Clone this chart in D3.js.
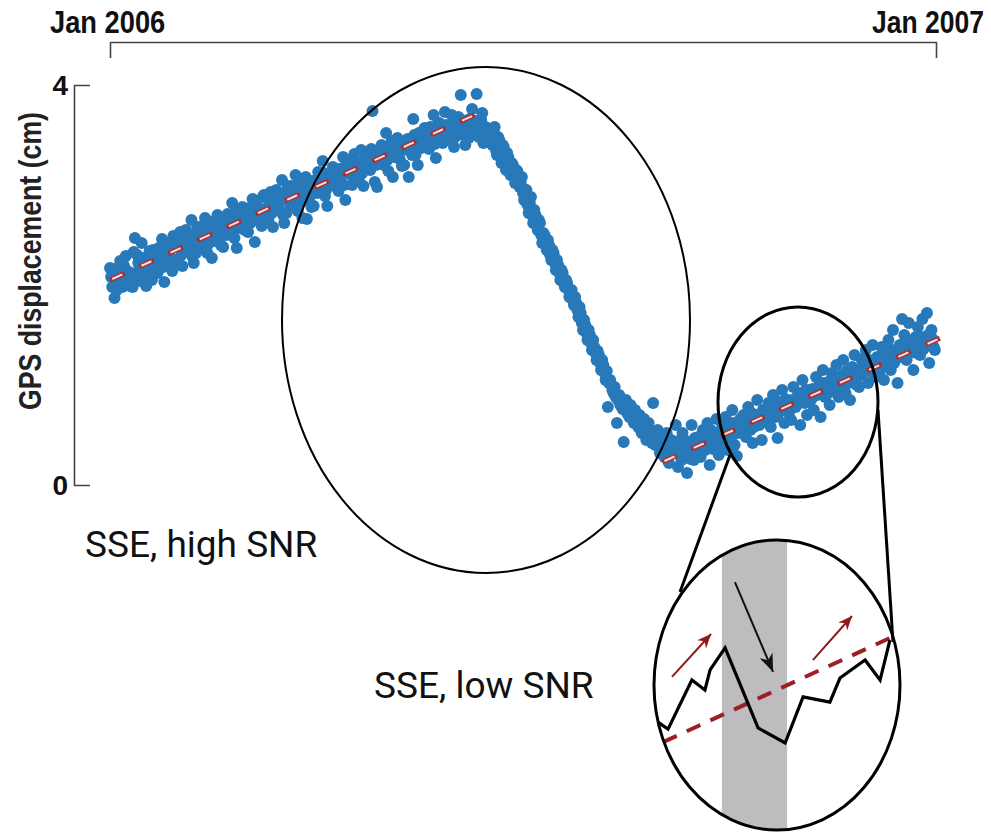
<!DOCTYPE html>
<html lang="en">
  <head>
    <meta charset="utf-8">
    <title>GPS displacement during a slow slip event</title>
    <script type="text/javascript" src="https://cdn.jsdelivr.net/npm/d3@7"></script>
    <style type="text/css">
     body { margin: 0; background: #fff; }
     svg { display: block; }
    </style>
  </head>
  <body>
    <script type="text/javascript">

     // GPS displacement (cm) --------------------------------------------------------
     // two solutions a day: first array at 00h, second array at 12h
     let startDate = new Date(2006, 0, 1);
     let endDate = new Date(2007, 0, 1);

     // days 0 - 167 : steady loading
     let beforeSSE = [2.17, 1.98, 1.87, 1.95, 2.13, 2.02, 2.20, 2.29, 2.05, 1.99,
                      1.98, 2.47, 2.30, 2.12, 2.42, 2.08, 1.99, 2.26, 2.20, 2.35,
                      2.30, 2.12, 2.21, 2.46, 2.03, 2.38, 2.29, 2.19, 2.49, 2.25,
                      2.25, 2.53, 2.19, 2.45, 2.51, 2.36, 2.65, 2.22, 2.32, 2.49,
                      2.58, 2.39, 2.67, 2.32, 2.52, 2.27, 2.58, 2.66, 2.45, 2.40,
                      2.38, 2.63, 2.71, 2.55, 2.82, 2.47, 2.37, 2.66, 2.59, 2.74,
                      2.71, 2.53, 2.62, 2.86, 2.43, 2.79, 2.70, 2.59, 2.90, 2.66,
                      2.65, 2.93, 2.58, 2.85, 2.92, 2.74, 3.05, 2.62, 2.72, 2.89,
                      2.99, 2.80, 3.10, 2.74, 2.92, 2.67, 2.98, 2.66, 2.86, 2.78,
                      2.79, 3.04, 3.13, 2.97, 3.24, 2.89, 2.79, 3.08, 3.01, 3.16,
                      3.12, 2.94, 3.03, 3.28, 2.85, 3.20, 3.11, 3.00, 3.31, 3.07,
                      3.06, 3.35, 2.99, 3.26, 3.33, 3.15, 3.74, 3.03, 2.98, 3.30,
                      3.40, 3.20, 3.52, 3.14, 3.33, 3.08, 3.39, 3.47, 3.26, 3.19,
                      3.20, 3.44, 3.08, 3.38, 3.66, 3.30, 3.20, 3.49, 3.42, 3.57,
                      3.53, 3.36, 3.45, 3.70, 3.27, 3.62, 3.52, 3.42, 3.73, 3.49,
                      3.45, 3.70, 3.38, 3.62, 3.68, 3.90, 3.50, 3.40, 3.50, 3.66,
                      3.76, 3.55, 3.91, 3.48, 3.65, 3.42, 3.58, 3.52];
     let beforeSSE2 = [2.08, 2.16, 2.01, 2.06, 2.24, 1.98, 2.17, 2.08, 2.13, 2.05,
                       2.33, 2.12, 2.22, 2.04, 2.27, 2.22, 2.14, 2.34, 2.05, 2.29,
                       2.20, 2.37, 2.31, 2.18, 2.42, 2.26, 2.35, 2.14, 2.40, 2.44,
                       2.41, 2.30, 2.47, 2.55, 2.33, 2.43, 2.28, 2.50, 2.58, 2.37,
                       2.45, 2.60, 2.52, 2.41, 2.63, 2.50, 2.44, 2.70, 2.56, 2.61,
                       2.62, 2.50, 2.68, 2.60, 2.53, 2.75, 2.64, 2.57, 2.78, 2.55,
                       2.60, 2.77, 2.74, 2.65, 2.83, 2.71, 2.64, 2.88, 2.76, 2.70,
                       2.84, 2.72, 2.80, 2.95, 2.78, 2.86, 2.70, 2.92, 2.99, 2.81,
                       2.85, 2.94, 2.90, 3.02, 2.83, 2.97, 3.08, 2.89, 2.95, 3.04,
                       3.00, 2.92, 3.08, 3.02, 3.12, 2.95, 3.10, 3.05, 3.18, 2.99,
                       3.05, 3.16, 3.10, 3.00, 3.22, 3.14, 3.25, 3.08, 3.17, 3.21,
                       3.22, 3.12, 3.25, 3.30, 3.18, 3.36, 3.24, 3.20, 3.34, 3.27,
                       3.30, 3.38, 3.25, 3.34, 3.44, 3.28, 3.36, 3.31, 3.42, 3.35,
                       3.36, 3.46, 3.40, 3.30, 3.50, 3.43, 3.52, 3.37, 3.47, 3.40,
                       3.44, 3.58, 3.50, 3.41, 3.56, 3.62, 3.46, 3.55, 3.60, 3.52,
                       3.55, 3.62, 3.48, 3.58, 3.52, 3.65, 3.57, 3.60, 3.47, 3.62,
                       3.55, 3.64, 3.50, 3.60, 3.72, 3.56, 3.48, 3.55];
     // days 168 - 250 : the slow slip event
     let duringSSE = [3.52, 3.40, 3.58, 3.30, 3.45, 3.22, 3.38, 3.15, 3.28, 3.10,
                      3.20, 3.02, 3.14, 2.98, 3.08, 2.85, 2.95, 2.72, 2.88, 2.62,
                      2.70, 2.55, 2.62, 2.42, 2.50, 2.35, 2.40, 2.25, 2.32, 2.15,
                      2.20, 2.05, 2.12, 1.98, 2.02, 1.88, 1.95, 1.80, 1.82, 1.68,
                      1.72, 1.55, 1.60, 1.45, 1.50, 1.35, 1.38, 1.25, 1.30, 1.15,
                      1.20, 1.05, 0.78, 1.05, 0.95, 0.98, 0.62, 0.90, 0.82, 0.43,
                      0.85, 0.72, 0.80, 0.65, 0.75, 0.60, 0.70, 0.52, 0.66, 0.45,
                      0.62, 0.50, 0.82, 0.40, 0.55, 0.32, 0.48, 0.28, 0.52, 0.22,
                      0.45, 0.35, 0.60];
     let duringSSE2 = [3.45, 3.55, 3.35, 3.48, 3.30, 3.40, 3.25, 3.32, 3.18, 3.22,
                       3.12, 3.15, 3.05, 3.02, 2.92, 2.95, 2.80, 2.82, 2.70, 2.75,
                       2.62, 2.65, 2.50, 2.52, 2.40, 2.45, 2.30, 2.35, 2.22, 2.25,
                       2.12, 2.15, 2.02, 2.05, 1.95, 1.92, 1.85, 1.88, 1.75, 1.78,
                       1.62, 1.65, 1.52, 1.55, 1.42, 1.45, 1.32, 1.34, 1.22, 1.25,
                       1.12, 1.14, 1.02, 1.00, 0.92, 0.88, 0.85, 0.80, 0.76, 0.78,
                       0.72, 0.68, 0.70, 0.62, 0.64, 0.58, 0.55, 0.60, 0.50, 0.55,
                       0.48, 0.42, 0.50, 0.45, 0.38, 0.42, 0.35, 0.40, 0.30, 0.38,
                       0.32, 0.42, 0.36];
     // days 251 - 364 : loading again
     let afterSSE = [0.18, 0.45, 0.52, 0.30, 0.12, 0.41, 0.60, 0.25, 0.35, 0.48,
                     0.28, 0.55, 0.35, 0.62, 0.20, 0.47, 0.38, 0.66, 0.30, 0.52,
                     0.42, 0.68, 0.35, 0.58, 0.75, 0.40, 0.29, 0.62, 0.53, 0.70,
                     0.48, 0.78, 0.55, 0.42, 0.70, 0.85, 0.60, 0.45, 0.72, 0.66,
                     0.82, 0.58, 0.90, 0.68, 0.47, 0.75, 0.95, 0.62, 0.80, 0.72,
                     0.65, 0.98, 0.78, 0.88, 0.60, 1.05, 0.82, 0.70, 0.95, 0.86,
                     0.75, 1.08, 0.92, 0.68, 1.15, 0.88, 1.02, 0.80, 1.12, 0.96,
                     1.20, 0.88, 1.05, 1.25, 0.92, 1.10, 0.85, 1.18, 1.30, 1.00,
                     0.98, 1.26, 1.15, 1.35, 1.02, 1.22, 1.40, 1.08, 1.28, 1.12,
                     1.38, 1.05, 1.30, 1.45, 1.15, 1.55, 1.28, 1.02, 1.40, 1.66,
                     1.50, 1.25, 1.62, 1.35, 1.15, 1.48, 1.58, 1.30, 1.66, 1.42,
                     1.72, 1.22, 1.55, 1.38];
     let afterSSE2 = [0.35, 0.25, 0.40, 0.44, 0.30, 0.26, 0.38, 0.47, 0.33, 0.42,
                      0.45, 0.38, 0.50, 0.41, 0.55, 0.36, 0.52, 0.46, 0.40, 0.58,
                      0.55, 0.50, 0.60, 0.47, 0.62, 0.56, 0.52, 0.66, 0.58, 0.55,
                      0.64, 0.60, 0.72, 0.58, 0.66, 0.70, 0.62, 0.75, 0.68, 0.63,
                      0.74, 0.70, 0.78, 0.84, 0.72, 0.80, 0.76, 0.86, 0.74, 0.82,
                      0.85, 0.80, 0.88, 0.82, 0.92, 0.86, 0.95, 0.84, 0.90, 0.96,
                      0.95, 0.90, 1.00, 0.94, 1.02, 0.97, 0.92, 1.05, 0.98, 1.03,
                      1.05, 1.00, 1.10, 1.06, 1.14, 1.02, 1.12, 1.08, 1.04, 1.15,
                      1.16, 1.10, 1.20, 1.14, 1.25, 1.18, 1.12, 1.24, 1.20, 1.28,
                      1.25, 1.20, 1.32, 1.26, 1.35, 1.22, 1.30, 1.36, 1.28, 1.32,
                      1.36, 1.30, 1.42, 1.38, 1.45, 1.32, 1.40, 1.48, 1.36, 1.44,
                      1.50, 1.40, 1.46, 1.35];

     // linear trends [day, cm]
     let trendBefore = [[0, 2.05], [163, 3.72]];
     let trendAfter = [[244, 0.23], [367, 1.47]];

     let yTicks = [0, 4];
     let xTickLabels = ["Jan 2006", "Jan 2007"];
     let yTitle = "GPS displacement (cm)";
     let noteHigh = "SSE, high SNR";
     let noteLow = "SSE, low SNR";

     // zoomed sketch, coordinates in percent of the inset box
     let insetZigzag = [[1.6, 62.8], [5.7, 65.2], [15.4, 48.3], [20.7, 51.7], [22.8, 44.8],
                        [28.9, 37.2], [42.3, 64.8], [53.3, 70.0], [60.6, 54.1], [71.5, 55.9],
                        [75.6, 47.6], [85.8, 41.4], [91.9, 48.3], [95.9, 34.5]];
     let insetTrend = [[3.7, 69.7], [95.9, 33.8]];
     let insetUpArrows = [[[7.3, 47.2], [23.2, 32.4]], [[64.6, 41.4], [80.5, 26.2]]];
     let insetDownArrow = [[32.9, 14.5], [48.4, 45.5]];
     let insetBand = [27.6, 54.1];

     let w = 991;
     let h = 834;
     let narrow = "'Liberation Sans Narrow', 'Arial Narrow', sans-serif";

     let svg = d3.select("body").append("svg")
		 .attr("width", w)
		 .attr("height", h);

     let xScale = d3.scaleTime()
		    .domain([startDate, endDate])
		    .range([110, 936]);
     let yScale = d3.scaleLinear()
		    .domain([0, 4])
		    .range([485, 85]);

     let dayToDate = (d) => {return d3.timeDay.offset(startDate, d);};

     let series00 = beforeSSE.concat(duringSSE, afterSSE);
     let series12 = beforeSSE2.concat(duringSSE2, afterSSE2);
     let points = series00.map((v, i) => {return {date: dayToDate(i), value: v};})
			  .concat(series12.map((v, i) => {return {date: d3.timeHour.offset(dayToDate(i), 12), value: v};}));

     // top axis: just the bracket, ticks pointing down
     svg.append("g")
	.attr("transform", "translate(0,42)")
	.call(d3.axisBottom(xScale).tickValues([]).tickSizeOuter(16))
	.call(g => g.select(".domain").attr("stroke", "#444").attr("stroke-width", 1.6));

     // year labels, squeezed a bit to look like a condensed face
     svg.append("text")
	.attr("transform", "translate(" + (xScale(startDate) - 60) + ",33) scale(0.88,1)")
	.attr("font-family", narrow)
	.attr("font-weight", "bold")
	.attr("font-size", "31px")
	.attr("fill", "#111")
	.text(xTickLabels[0]);
     svg.append("text")
	.attr("transform", "translate(" + (xScale(endDate) + 48) + ",33) scale(0.855,1)")
	.attr("text-anchor", "end")
	.attr("font-family", narrow)
	.attr("font-weight", "bold")
	.attr("font-size", "31px")
	.attr("fill", "#111")
	.text(xTickLabels[1]);

     // left axis: bracket with ticks pointing right
     svg.append("g")
	.attr("transform", "translate(74,0)")
	.call(d3.axisRight(yScale).tickValues([]).tickSizeOuter(16))
	.call(g => g.select(".domain").attr("stroke", "#444").attr("stroke-width", 1.6));

     svg.selectAll("text.ylab")
	.data(yTicks)
	.enter()
	.append("text")
	.attr("class", "ylab")
	.attr("x", 68)
	.attr("y", d => {return yScale(d) + 10;})
	.attr("text-anchor", "end")
	.attr("font-family", narrow)
	.attr("font-weight", "bold")
	.attr("font-size", "28px")
	.attr("fill", "#111")
	.text(d => {return d;});

     svg.append("text")
	.attr("transform", "translate(41,261) rotate(-90)")
	.attr("text-anchor", "middle")
	.attr("textLength", 298)
	.attr("lengthAdjust", "spacingAndGlyphs")
	.attr("font-family", narrow)
	.attr("font-weight", "bold")
	.attr("font-size", "31px")
	.attr("fill", "#222")
	.text(yTitle);

     // the scatter
     svg.append("g")
	.selectAll("circle")
	.data(points)
	.enter()
	.append("circle")
	.attr("cx", d => {return xScale(d.date);})
	.attr("cy", d => {return yScale(d.value);})
	.attr("r", 6)
	.attr("fill", "#2879b9");

     // dashed trend lines (red dash with a pale core)
     let trendLine = d3.line()
		       .x(d => {return xScale(dayToDate(d[0]));})
		       .y(d => {return yScale(d[1]);});
     [trendBefore, trendAfter].forEach(t => {
       svg.append("path")
	  .attr("d", trendLine(t))
	  .attr("fill", "none")
	  .attr("stroke", "#a83232")
	  .attr("stroke-width", 5)
	  .attr("stroke-dasharray", "16 16");
       svg.append("path")
	  .attr("d", trendLine(t))
	  .attr("fill", "none")
	  .attr("stroke", "#f6dede")
	  .attr("stroke-width", 2)
	  .attr("stroke-dasharray", "11 21")
	  .attr("stroke-dashoffset", -2.5);
     });

     // annotation ellipses
     svg.append("ellipse")
	.attr("cx", 486).attr("cy", 320).attr("rx", 204).attr("ry", 253)
	.attr("fill", "none").attr("stroke", "#000").attr("stroke-width", 2);
     svg.append("ellipse")
	.attr("cx", 798).attr("cy", 402).attr("rx", 80).attr("ry", 95)
	.attr("fill", "none").attr("stroke", "#000").attr("stroke-width", 3);

     // connector lines to the zoomed sketch
     svg.append("line")
	.attr("x1", 730).attr("y1", 455).attr("x2", 680).attr("y2", 592)
	.attr("stroke", "#000").attr("stroke-width", 3);
     svg.append("line")
	.attr("x1", 878).attr("y1", 410).attr("x2", 893).attr("y2", 642)
	.attr("stroke", "#000").attr("stroke-width", 3);

     // zoomed sketch ------------------------------------------------------------
     let insetX = d3.scaleLinear().domain([0, 100]).range([654, 900]);
     let insetY = d3.scaleLinear().domain([0, 100]).range([540, 830]);

     let defs = svg.append("defs");
     defs.append("clipPath")
	 .attr("id", "insetClip")
	 .append("ellipse")
	 .attr("cx", insetX(50)).attr("cy", insetY(50))
	 .attr("rx", insetX(100) - insetX(50)).attr("ry", insetY(100) - insetY(50));

     let arrowHead = (id, color, len, wid) => {
       defs.append("marker")
	   .attr("id", id)
	   .attr("markerUnits", "userSpaceOnUse")
	   .attr("viewBox", "0 0 " + len + " " + wid)
	   .attr("refX", len)
	   .attr("refY", wid / 2)
	   .attr("markerWidth", len)
	   .attr("markerHeight", wid)
	   .attr("orient", "auto")
	   .append("path")
	   .attr("d", "M0,0 L" + len + "," + (wid / 2) + " L0," + wid + " L" + (len * 0.3) + "," + (wid / 2) + " Z")
	   .attr("fill", color);
     };
     arrowHead("redHead", "#8e1b1b", 14, 12);
     arrowHead("blackHead", "#111", 18, 14);

     let inset = svg.append("g");
     inset.append("rect")
	  .attr("clip-path", "url(#insetClip)")
	  .attr("x", insetX(insetBand[0]))
	  .attr("y", insetY(0))
	  .attr("width", insetX(insetBand[1]) - insetX(insetBand[0]))
	  .attr("height", insetY(100) - insetY(0))
	  .attr("fill", "#bebcbe");

     let insetLine = d3.line()
		       .x(d => {return insetX(d[0]);})
		       .y(d => {return insetY(d[1]);});

     inset.append("path")
	  .attr("d", insetLine(insetTrend))
	  .attr("fill", "none")
	  .attr("stroke", "#9b1f24")
	  .attr("stroke-width", 4)
	  .attr("stroke-dasharray", "15 11");

     inset.append("path")
	  .attr("d", insetLine(insetZigzag))
	  .attr("fill", "none")
	  .attr("stroke", "#000")
	  .attr("stroke-width", 3.2)
	  .attr("stroke-linejoin", "miter");

     insetUpArrows.forEach(a => {
       inset.append("path")
	    .attr("d", insetLine(a))
	    .attr("stroke", "#8e1b1b")
	    .attr("stroke-width", 2)
	    .attr("marker-end", "url(#redHead)");
     });
     inset.append("path")
	  .attr("d", insetLine(insetDownArrow))
	  .attr("stroke", "#111")
	  .attr("stroke-width", 2)
	  .attr("marker-end", "url(#blackHead)");

     inset.append("ellipse")
	  .attr("cx", insetX(50)).attr("cy", insetY(50))
	  .attr("rx", insetX(100) - insetX(50)).attr("ry", insetY(100) - insetY(50))
	  .attr("fill", "none").attr("stroke", "#000").attr("stroke-width", 3);

     // notes
     svg.append("text")
	.attr("x", 85).attr("y", 557)
	.attr("font-family", "Roboto, sans-serif")
	.attr("font-size", "37px")
	.attr("fill", "#111")
	.text(noteHigh);
     svg.append("text")
	.attr("x", 374).attr("y", 698)
	.attr("font-family", "Roboto, sans-serif")
	.attr("font-size", "37px")
	.attr("fill", "#111")
	.text(noteLow);

    </script>
  </body>
</html>
